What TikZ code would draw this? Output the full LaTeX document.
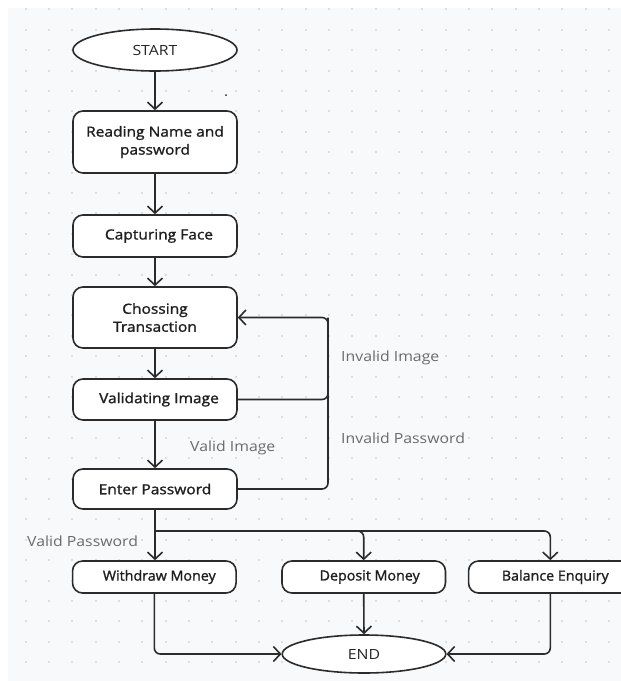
\documentclass[tikz,border=0pt]{standalone}
\usepackage{fontspec}
\setmainfont{Open Sans}[FakeStretch=1.13]
\newfontfamily\boxfont{Open Sans}[FakeBold=1.3,FakeStretch=1.11]
\newfontfamily\boxfontn{Open Sans}[FakeBold=1.3,FakeStretch=1.02]
\usetikzlibrary{arrows.meta,shapes.geometric}
\definecolor{bgc}{HTML}{F8F9FB}
\definecolor{dotc}{HTML}{DCDDE1}
\definecolor{linec}{HTML}{2B2B2B}
\definecolor{labc}{HTML}{6B6B6B}
\tikzset{
  flowbox/.style={draw=linec, line width=1.6pt, fill=white, rounded corners=10pt,
    minimum width=164pt, inner sep=0pt, align=center, font=\boxfont\fontsize{14}{18}\selectfont, text=black!88},
  actbox/.style={flowbox, minimum height=32pt, minimum width=163.5pt, font=\boxfontn\fontsize{14}{18}\selectfont},
  termnode/.style={draw=linec, line width=1.6pt, fill=white, ellipse, inner sep=0pt,
    minimum width=164pt, font=\fontsize{14}{16}\selectfont, text=black!85},
  conn/.style={draw=linec, line width=1.6pt, rounded corners=6pt},
  arr/.style={conn, -{Straight Barb[length=7pt,width=15pt]}},
  lab/.style={anchor=west, inner sep=0pt, text=labc, font=\fontsize{14}{16}\selectfont}
}
\begin{document}
\begin{tikzpicture}[x=1pt,y=-1pt]
\useasboundingbox (0,0) rectangle (621,681);
\fill[white] (0,0) rectangle (621,681);
\fill[bgc] (8,8) rectangle (621,681);
\foreach \i in {0,...,25}{
  \foreach \j in {0,...,32}{
    \fill[dotc] ({25.7+23.33*\i-1},{9.3+20.4*\j-1}) rectangle ++(2,2);
  }
}
% nodes
\node[termnode, minimum height=42pt] (start) at (155,50) {START};
\node[flowbox, minimum height=62pt] (read) at (155,142) {Reading Name and\\password};
\node[flowbox, minimum height=42pt] (cap) at (155,236) {\hspace*{8pt}Capturing Face};
\node[flowbox, minimum height=61pt] (choose) at (155,317.5) {Chossing\\Transaction};
\node[flowbox, minimum height=41pt] (valid) at (155,399.5) {\hspace*{8pt}Validating Image};
\node[flowbox, minimum height=40pt] (enter) at (155,489) {Enter Password};
\node[actbox] (withdraw) at (154.3,577) {\hspace*{10pt}Withdraw Money};
\node[actbox] (deposit) at (363.7,577) {\hspace*{12pt}Deposit Money};
\node[actbox] (balance) at (550.3,577) {\hspace*{10pt}Balance Enquiry};
\node[termnode, minimum height=38pt, minimum width=163.5pt] (end) at (364,654) {END};
\fill[linec] (226,95) circle (1pt);
% coordinates
\coordinate (rt) at (328,317.5);
\coordinate (br) at (155,531);
% connectors
\draw[arr] (start) -- (read);
\draw[arr] (read) -- (cap);
\draw[arr] (cap) -- (choose);
\draw[arr] (choose) -- (valid);
\draw[arr] (valid) -- (enter);
\draw[arr] (valid.east) -| (rt) -- (choose.east);
\draw[conn] (enter.east) -| (rt);
\draw[arr] (enter.south) -- (enter.south |- withdraw.north);
\draw[arr] (br) -| (deposit.north);
\draw[arr] (br) -| (balance.north);
\draw[arr] (withdraw.south) |- (end.west);
\draw[arr] (deposit.south) -- (end.north);
\draw[arr] (balance.south) |- (end.east);
% labels
\node[lab] (l1) at (341,358) {Invalid Image};
\node[lab] (l2) at (341,438) {Invalid Password};
\node[lab] (l3) at (190,448) {Valid Image};
\node[lab] (l4) at (27,541) {Valid Password};
\end{tikzpicture}
\end{document}
